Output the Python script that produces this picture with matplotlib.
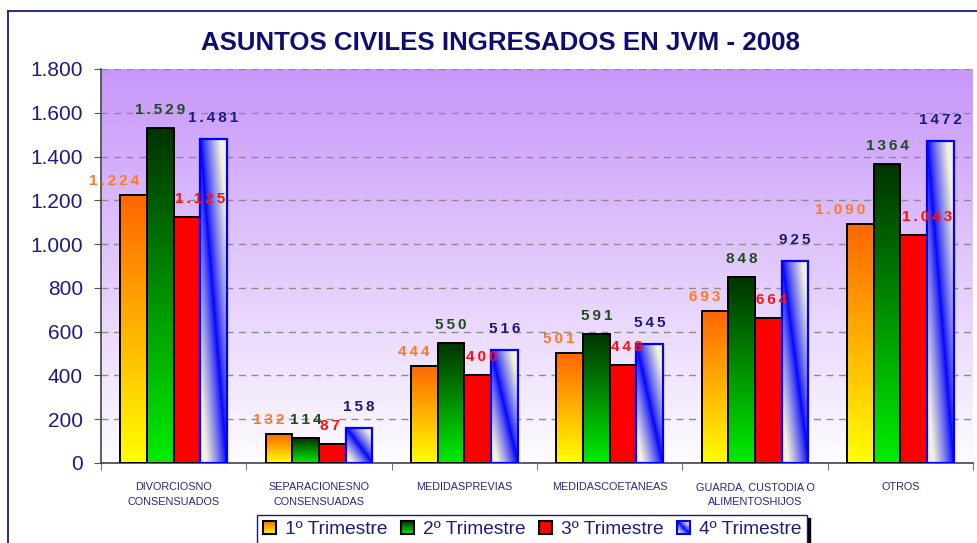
import numpy as np
import matplotlib.pyplot as plt
from matplotlib.patches import Rectangle
from matplotlib.lines import Line2D
from matplotlib.colors import to_rgb
from matplotlib.legend_handler import HandlerBase
from matplotlib.ticker import FuncFormatter, FixedLocator
from matplotlib import font_manager

# data
categories = ["DIVORCIOSNO\nCONSENSUADOS", "SEPARACIONESNO\nCONSENSUADAS",
              "MEDIDASPREVIAS", "MEDIDASCOETANEAS",
              "GUARDA, CUSTODIA O\nALIMENTOSHIJOS", "OTROS"]
series_names = ["1º Trimestre", "2º Trimestre", "3º Trimestre", "4º Trimestre"]
trim1 = [1224, 132, 444, 501, 693, 1090]
trim2 = [1529, 114, 550, 591, 848, 1364]
trim3 = [1125, 87, 400, 448, 664, 1043]
trim4 = [1481, 158, 516, 545, 925, 1472]
labels1 = ["1.224", "132", "444", "501", "693", "1.090"]
labels2 = ["1.529", "114", "550", "591", "848", "1364"]
labels3 = ["1.125", "87", "400", "448", "664", "1.043"]
labels4 = ["1.481", "158", "516", "545", "925", "1472"]

NAVY = "#1c1c80"


def pick_font(name, fallback="Liberation Sans"):
    try:
        font_manager.findfont(name, fallback_to_default=False)
        return name
    except Exception:
        return fallback


BASE = "Liberation Sans"
NARROW = pick_font("Liberation Sans Narrow")
narrow_ok = NARROW != BASE
plt.rcParams['font.family'] = [BASE, 'DejaVu Sans']


def vgrad(top, bottom):
    top = np.array(to_rgb(top))
    bottom = np.array(to_rgb(bottom))

    def f(u, v):
        v = np.asarray(v, dtype=float)[..., None]
        return bottom + (top - bottom) * v
    return f


def diag_blue(u, v):
    u = np.asarray(u, dtype=float)
    v = np.asarray(v, dtype=float)
    d = np.abs(u - (1 - v))
    t = np.clip(d / 0.75, 0, 1)[..., None] ** 0.8
    blue = np.array(to_rgb("#0000ff"))
    cream = np.array(to_rgb("#f2f2dc"))
    return blue + (cream - blue) * t


fills = [vgrad("#ff6600", "#ffff00"),
         vgrad("#003300", "#00ee00"),
         vgrad("#ff0000", "#ff0000"),
         diag_blue]
edges = ["black", "black", "black", "#0000ff"]
label_colors = ["#ff7a22", "#1e4d1e", "#ff1010", "#1a1a7d"]
# label offsets in pixels (dx from bar centre, dy above bar top) and alignment
label_pos = [(5, 14, "right"), (0, 18, "center"), (-12, 18, "left"), (0, 21, "center")]


def spaced(s):
    return "\u2009".join(s)


class GradientHandler(HandlerBase):
    def __init__(self, fill, edge):
        super().__init__()
        self.fill = fill
        self.edge = edge

    def create_artists(self, legend, orig_handle, xdescent, ydescent,
                       width, height, fontsize, trans):
        n = 10
        size = min(width, height)
        x0 = -xdescent + (width - size) / 2
        y0 = -ydescent + (height - size) / 2
        arts = []
        for i in range(n):
            for j in range(n):
                c = self.fill((i + 0.5) / n, (j + 0.5) / n)
                arts.append(Rectangle((x0 + i * size / n, y0 + j * size / n),
                                      size / n, size / n, facecolor=c,
                                      edgecolor=c, lw=0.3, transform=trans))
        arts.append(Rectangle((x0, y0), size, size, facecolor="none",
                              edgecolor=self.edge, lw=1.5, transform=trans))
        return arts


fig = plt.figure(figsize=(9.77, 5.43), dpi=100)
ax = fig.add_axes([101 / 977, 1 - 463 / 543, (973 - 101) / 977, (463 - 69) / 543])

# background gradient, purple at top to white at bottom
bg_top = np.array(to_rgb("#c797f9"))
bg_bot = np.array(to_rgb("#fdfcff"))
tv = np.linspace(0, 1, 256)[:, None, None]
bg = bg_bot + (bg_top - bg_bot) * tv
ax.imshow(bg, extent=[0, 1, 0, 1], transform=ax.transAxes, origin="lower",
          aspect="auto", zorder=0, interpolation="bilinear")

x = np.arange(len(categories))
w = 0.183
all_vals = [trim1, trim2, trim3, trim4]
all_labels = [labels1, labels2, labels3, labels4]
for k, vals in enumerate(all_vals):
    xs = x + (k - 1.5) * w
    for xc, h in zip(xs, vals):
        u = np.linspace(0, 1, 40)[None, :]
        v = np.linspace(0, 1, 200)[:, None]
        img = fills[k](np.broadcast_to(u, (200, 40)), np.broadcast_to(v, (200, 40)))
        ax.imshow(img, extent=[xc - w / 2, xc + w / 2, 0, h], origin="lower",
                  aspect="auto", zorder=2, interpolation="bilinear")
    ax.bar(xs, vals, width=w, fill=False, edgecolor=edges[k],
           linewidth=1.6 if k == 3 else 1.4, zorder=3)
    dx, dy, ha = label_pos[k]
    for xc, h, lab in zip(xs, vals, all_labels[k]):
        ax.annotate(spaced(lab), (xc, h), xytext=(dx * 0.72, dy * 0.72),
                    textcoords="offset points", ha=ha, va="center",
                    fontsize=11, fontweight="bold", color=label_colors[k],
                    zorder=5)

ax.set_xlim(-0.5, len(categories) - 0.5)
ax.set_ylim(0, 1800)
ax.set_yticks(np.arange(0, 1801, 200))
ax.yaxis.set_major_formatter(FuncFormatter(lambda v, p: f"{int(v):,}".replace(",", ".")))
ax.grid(axis="y", color="#8c8c8c", linestyle=(0, (5, 4)), linewidth=1.0, zorder=1)
ax.grid(axis="x", visible=False)

ax.set_xticks(x)
ax.set_xticklabels(categories, fontsize=8.8 if narrow_ok else 7.8,
                   family=[NARROW, 'DejaVu Sans'], color="#26268c", linespacing=1.6)
ax.xaxis.set_minor_locator(FixedLocator(np.arange(-0.5, len(categories), 1.0)))
ax.tick_params(axis="x", which="major", length=0, pad=14)
ax.tick_params(axis="x", which="minor", length=5, color="#555555")
ax.tick_params(axis="y", length=5, pad=8, labelsize=15, labelcolor=NAVY,
               color="#555555")
for s in ["top", "right"]:
    ax.spines[s].set_visible(False)
for s in ["left", "bottom"]:
    ax.spines[s].set_color("#444444")
    ax.spines[s].set_linewidth(1.2)

fig.text(0.512, 1 - 43 / 543, "ASUNTOS CIVILES INGRESADOS EN JVM - 2008",
         ha="center", va="center", fontsize=18.6, fontweight="bold", color="#0d0d73")

# outer chart border (left and top edges visible)
fig.add_artist(Line2D([8 / 977, 8 / 977], [0, 1 - 11 / 543], color="#1a1a80", lw=1.3))
fig.add_artist(Line2D([8 / 977, 1.0], [1 - 11 / 543, 1 - 11 / 543], color="#1a1a80", lw=1.3))

handles = [Rectangle((0, 0), 1, 1) for _ in series_names]
hmap = {h: GradientHandler(fills[k], edges[k] if k < 3 else "#0000ff")
        for k, h in enumerate(handles)}
leg = fig.legend(handles, series_names, handler_map=hmap, ncol=4,
                 loc="upper left", bbox_to_anchor=(257 / 977, 1 - 515 / 543),
                 prop={"family": [NARROW, 'DejaVu Sans'],
                       "size": 16 if narrow_ok else 13.8},
                 labelcolor=NAVY, frameon=True, fancybox=False,
                 edgecolor="#1a1a80", facecolor="white", framealpha=1,
                 shadow={"color": "black", "alpha": 1},
                 handlelength=0.7, handleheight=0.7, handletextpad=0.45,
                 columnspacing=0.7, borderpad=0.3, borderaxespad=0)
leg.get_frame().set_linewidth(1.0)

fig.savefig("out.png", dpi=100)
